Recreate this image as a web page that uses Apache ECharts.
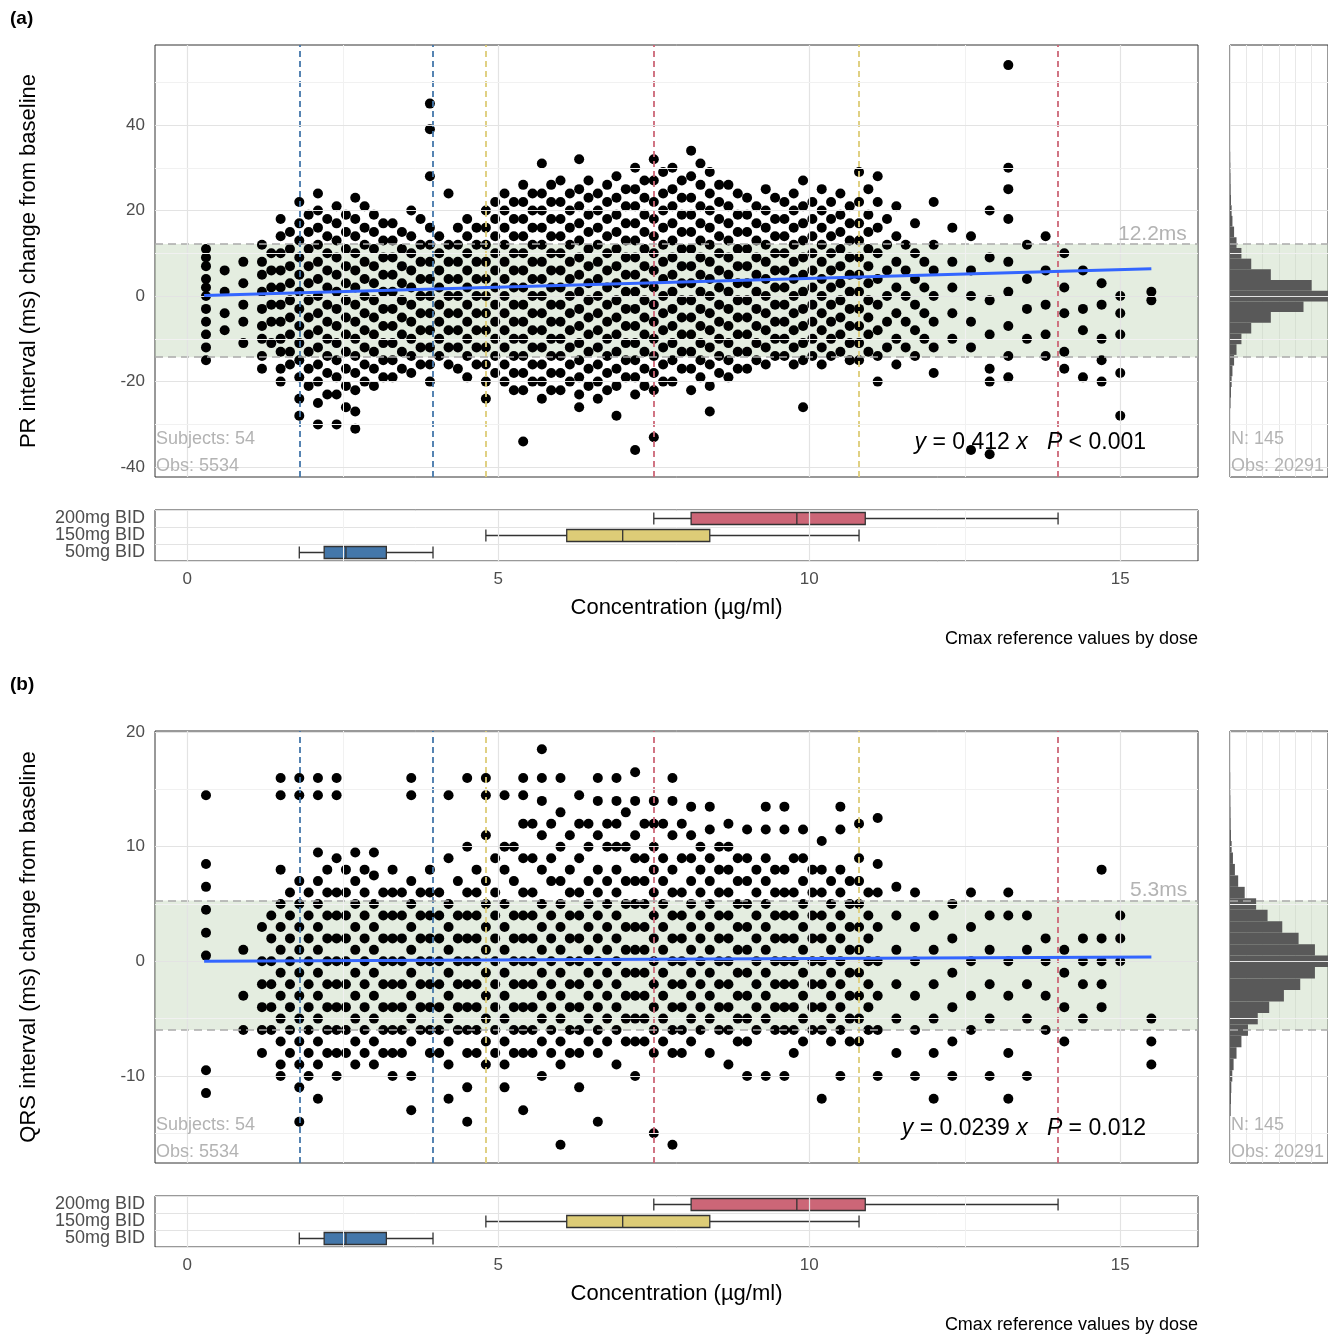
<!DOCTYPE html>
<html><head><meta charset="utf-8">
<script src="https://cdn.jsdelivr.net/npm/echarts@6/dist/echarts.min.js"></script>
<style>body{margin:0;background:#fff}#c{width:1328px;height:1334px}</style>
</head><body><div id="c"></div>
<script>
// Nube de puntos (a) PR: "x:y1,y2,..." leídos aproximadamente de la figura
const prCols = [
 '0.3:11,9,7,4,2,0,-3,-6,-9,-12,-15','0.6:6,1,-4,-8','0.9:8,3,-2,-6,-11',
 '1.2:12,8,5,1,-3,-7,-10,-14,-17','1.5:18,14,10,6,2,-2,-6,-10,-13,-17,-20',
 '1.8:22,17,13,9,5,1,-3,-7,-11,-15,-19,-24,-28','2.1:24,20,16,12,8,4,0,-4,-8,-12,-16,-20,-25,-30',
 '2.4:21,17,13,9,5,1,-3,-7,-11,-15,-19,-23,-30','2.7:23,18,14,10,6,2,-2,-6,-10,-14,-18,-22,-27,-31',
 '3.0:19,15,11,7,3,-1,-5,-9,-13,-17,-21','3.3:17,13,9,5,1,-3,-7,-11,-15,-19',
 '3.6:20,14,10,6,2,-2,-6,-10,-14,-18','3.9:45,39,28,16,12,8,4,0,-4,-8,-12,-16,-20',
 '4.2:24,12,8,4,0,-4,-8,-12,-16','4.5:18,14,10,6,2,-2,-6,-10,-14,-19',
 '4.8:20,16,12,8,4,0,-4,-8,-12,-16,-20,-24','5.1:24,20,16,12,8,4,0,-4,-8,-12,-16,-20',
 '5.4:26,22,18,14,10,6,2,-2,-6,-10,-14,-18,-22,-34','5.7:31,24,20,16,12,8,4,0,-4,-8,-12,-16,-20,-24',
 '6.0:27,22,18,14,10,6,2,-2,-6,-10,-14,-18,-22','6.3:32,25,21,17,13,9,5,1,-3,-7,-11,-15,-19,-23,-26',
 '6.6:24,20,16,12,8,4,0,-4,-8,-12,-16,-20,-24','6.9:28,23,19,15,11,7,3,-1,-5,-9,-13,-17,-21,-28',
 '7.2:30,25,21,17,13,9,5,1,-3,-7,-11,-15,-19,-23,-36','7.5:32,27,22,18,14,10,6,2,-2,-6,-10,-14,-18,-22,-33',
 '7.8:30,25,21,17,13,9,5,1,-3,-7,-11,-15,-20','8.1:34,28,23,19,15,11,7,3,-1,-5,-9,-13,-17,-22',
 '8.4:29,24,20,16,12,8,4,0,-4,-8,-12,-16,-21,-27','8.7:26,21,17,13,9,5,1,-3,-7,-11,-15,-19',
 '9.0:23,19,15,11,7,3,-1,-5,-9,-13,-17','9.3:25,20,16,12,8,4,0,-4,-8,-12,-16',
 '9.6:22,18,14,10,6,2,-2,-6,-10,-14','9.9:27,21,17,13,9,5,1,-3,-7,-11,-15,-26',
 '10.2:25,20,16,12,8,4,0,-4,-8,-12,-16','10.5:24,19,15,11,7,3,-1,-5,-9,-13',
 '10.8:29,22,17,13,9,5,1,-3,-7,-11,-15','11.1:28,22,16,10,4,-2,-8,-14,-20',
 '11.4:21,14,8,2,-4,-10,-16','11.7:17,10,4,-2,-8,-14','12.0:22,12,6,0,-6,-12,-18',
 '12.3:16,8,2,-4,-10','12.6:14,6,0,-6,-12,-36','12.9:20,9,-1,-9,-17,-20,-37',
 '13.2:54,30,25,18,8,1,-7,-14,-19','13.5:12,4,-3,-10','13.8:14,6,-2,-9,-14',
 '14.1:10,2,-4,-13,-17','14.4:6,-3,-8,-19','14.7:3,-2,-10,-15,-20','15.0:0,-4,-9,-18,-28','15.5:1,-1',
 // relleno del núcleo denso
 '1.35:10,6,2,-2,-6,-11','1.65:15,11,7,3,-1,-5,-9,-13,-16','1.95:19,15,11,7,3,-1,-5,-9,-13,-17,-21',
 '2.25:18,14,10,6,2,-2,-6,-10,-14,-18,-23','2.55:19,15,11,7,3,-1,-5,-9,-13,-17,-21,-26',
 '2.85:21,16,12,8,4,0,-4,-8,-12,-16,-20','3.15:17,13,9,5,1,-3,-7,-11,-15,-19',
 '3.45:15,11,7,3,-1,-5,-9,-13,-17','3.75:18,12,8,4,0,-4,-8,-12,-16',
 '4.05:14,10,6,2,-2,-6,-10,-14','4.35:16,12,8,4,0,-4,-8,-12,-17','4.65:16,12,8,4,0,-4,-8,-12,-16',
 '4.95:22,18,14,10,6,2,-2,-6,-10,-14,-18','5.25:22,18,14,10,6,2,-2,-6,-10,-14,-18,-22',
 '5.55:24,20,16,12,8,4,0,-4,-8,-12,-16,-20','5.85:26,22,18,14,10,6,2,-2,-6,-10,-14,-18,-22',
 '6.15:24,20,16,12,8,4,0,-4,-8,-12,-16,-20','6.45:27,23,19,15,11,7,3,-1,-5,-9,-13,-17,-21',
 '6.75:26,22,18,14,10,6,2,-2,-6,-10,-14,-18,-22','7.05:25,21,17,13,9,5,1,-3,-7,-11,-15,-19',
 '7.35:27,23,19,15,11,7,3,-1,-5,-9,-13,-17,-21','7.65:29,24,20,16,12,8,4,0,-4,-8,-12,-16,-20',
 '7.95:27,23,19,15,11,7,3,-1,-5,-9,-13,-17','8.25:31,26,21,17,13,9,5,1,-3,-7,-11,-15,-19',
 '8.55:26,22,18,14,10,6,2,-2,-6,-10,-14,-18','8.85:24,19,15,11,7,3,-1,-5,-9,-13,-17',
 '9.15:21,17,13,9,5,1,-3,-7,-11,-15','9.45:23,18,14,10,6,2,-2,-6,-10,-14',
 '9.75:24,20,16,12,8,4,0,-4,-8,-12,-16','10.05:22,18,14,10,6,2,-2,-6,-10,-14',
 '10.35:22,18,14,10,6,2,-2,-6,-10,-14','10.65:21,17,13,9,5,1,-3,-7,-11,-15',
 '10.95:25,19,15,11,7,3,-1,-5,-9,-13','11.25:18,12,6,0,-6,-12','11.55:12,6,0,-6,-12','11.85:8,2,-4,-10'
];
// Nube de puntos (b) QRS
const qrsCols = [
 '0.3:14.5,8.5,6.5,4.5,2.5,0.5,-9.5,-11.5','0.9:1,-3,-6','1.2:3,0,-2,-4,-6,-8',
 '1.5:16,14.5,8,5,3,1,-1,-3,-5,-7,-9,-10','1.8:16,14.5,7,5,3,1,-1,-3,-5,-7,-9,-11,-14',
 '2.1:16,14.5,9.5,7,5,3,1,-1,-3,-5,-7,-9,-12','2.4:16,14.5,9,6,4,2,0,-2,-4,-6,-8,-10',
 '2.7:9.5,7,5,3,1,-1,-3,-5,-7,-9','3.0:9.5,7.5,5,3,1,-1,-3,-5,-7,-9','3.3:8,6,4,2,0,-2,-4,-6,-8,-10',
 '3.6:16,14.5,7,5,3,1,-1,-3,-5,-7,-10,-13','3.9:8,6,4,2,0,-2,-4,-6,-8',
 '4.2:14.5,9,5,3,1,-1,-3,-5,-7,-9,-12','4.5:16,10,6,4,2,0,-2,-4,-6,-8,-11,-14',
 '4.8:16,14.5,11,7,5,3,1,-1,-3,-5,-7,-9','5.1:14.5,10,8,5,3,1,-1,-3,-5,-7,-9,-11',
 '5.4:16,14.5,12,9,6,4,2,0,-2,-4,-6,-8,-13','5.7:18.5,16,14,11,8,5,3,1,-1,-3,-5,-7,-10',
 '6.0:16,13,10,7,5,3,1,-1,-3,-5,-7,-9,-16','6.3:14.5,12,9,6,4,2,0,-2,-4,-6,-8,-11',
 '6.6:16,14,11,8,6,4,2,0,-2,-4,-6,-8,-14','6.9:16,14,12,10,8,6,4,2,0,-2,-4,-6,-9',
 '7.2:16.5,14,11,9,7,5,3,1,-1,-3,-5,-7,-10','7.5:14,12,10,8,6,4,2,0,-2,-4,-6,-8,-15',
 '7.8:16,14,11,8,6,4,2,0,-2,-4,-6,-8,-16','8.1:13.5,11,9,7,5,3,1,-1,-3,-5,-7',
 '8.4:13.5,11.5,9,7,5,3,1,-1,-3,-5,-8','8.7:12,10,8,6,4,2,0,-2,-4,-6,-9',
 '9.0:11.5,9,7,5,3,1,-1,-3,-5,-7,-10','9.3:13.5,11.5,9,7,5,3,1,-1,-3,-5,-10',
 '9.6:13.5,11.5,8,6,4,2,0,-2,-4,-6,-10','9.9:11.5,9,7,5,3,1,-1,-3,-5,-7',
 '10.2:10.5,8,6,4,2,0,-2,-4,-6,-12','10.5:13.5,11.5,8,6,4,2,0,-2,-4,-6,-10',
 '10.8:12,9,7,5,3,1,-1,-3,-5,-7','11.1:12.5,8.5,6,3,0,-3,-6,-10','11.4:6.5,4,1,-2,-5,-8',
 '11.7:6,3,0,-3,-6,-10','12.0:4,1,-2,-5,-8,-12','12.3:5,2,-1,-4,-7,-10','12.6:6,3,0,-3,-6',
 '12.9:4,1,-2,-5,-10','13.2:6,4,0,-3,-8,-12','13.5:4,1,-2,-5,-10','13.8:2,0,-3,-6',
 '14.1:1,-1,-4,-7','14.4:2,0,-2,-5','14.7:8,2,0,-2,-4','15.0:4,2,0','15.5:-5,-7,-9',
 // relleno del núcleo denso
 '1.35:4,2,0,-2,-4,-6','1.65:6,4,2,0,-2,-4,-6,-8','1.95:6,4,2,0,-2,-4,-6,-8,-10','2.25:8,6,4,2,0,-2,-4,-6,-8',
 '2.55:8,6,4,2,0,-2,-4,-6,-8','2.85:8,6,4,2,0,-2,-4,-6,-8','3.15:6,4,2,0,-2,-4,-6,-8',
 '3.45:6,4,2,0,-2,-4,-6,-8','3.75:6,4,2,0,-2,-4,-6','4.05:6,4,2,0,-2,-4,-6,-8','4.35:7,4,2,0,-2,-4,-6',
 '4.65:8,6,4,2,0,-2,-4,-6,-8','4.95:9,6,4,2,0,-2,-4,-6,-8','5.25:10,7,4,2,0,-2,-4,-6,-8',
 '5.55:12,9,6,4,2,0,-2,-4,-6,-8','5.85:12,9,7,4,2,0,-2,-4,-6,-8','6.15:11,8,6,4,2,0,-2,-4,-6,-8',
 '6.45:12,10,7,5,3,1,-1,-3,-5,-7','6.75:12,10,7,5,3,1,-1,-3,-5,-7','7.05:13,10,7,5,3,1,-1,-3,-5,-7',
 '7.35:12,9,7,5,3,1,-1,-3,-5,-7','7.65:12,9,7,5,3,1,-1,-3,-5,-7','7.95:12,9,6,4,2,0,-2,-4,-6,-8',
 '8.25:10,8,6,4,2,0,-2,-4,-6','8.55:10,8,6,4,2,0,-2,-4,-6','8.85:9,7,5,3,1,-1,-3,-5,-7',
 '9.15:8,6,4,2,0,-2,-4,-6','9.45:8,6,4,2,0,-2,-4,-6','9.75:9,6,4,2,0,-2,-4,-6,-8',
 '10.05:8,6,4,2,0,-2,-4,-6','10.35:7,5,3,1,-1,-3,-5,-7','10.65:7,5,3,1,-1,-3,-5,-7','10.95:6,4,2,0,-2,-4,-6'
];
const doses = ['50mg BID', '150mg BID', '200mg BID'];
const doseColors = ['#4477AA', '#DDCC77', '#CC6677'];
// [min, Q1, mediana, Q3, max] de Cmax por dosis
const doseBoxes = [[1.8, 2.2, 2.55, 3.2, 3.95], [4.8, 6.1, 7.0, 8.4, 10.8], [7.5, 8.1, 9.8, 10.9, 14.0]];
// líneas de referencia Cmax: [x, índice de dosis]
const cmaxLines = [[1.8, 0], [3.95, 0], [4.8, 1], [10.8, 1], [7.5, 2], [14.0, 2]];
const prFit = [[0.27, 0.11], [15.5, 6.39]];
const qrsFit = [[0.27, 0.01], [15.5, 0.37]];
const prBand = [-14.3, 12.2];
const qrsBand = [-6.0, 5.3];
const xTicks = [0, 5, 10, 15];
const xMinor = [2.5, 12.5];
const prTicks = [-40, -20, 0, 20, 40];
const prMinor = [-30, -10, 10, 30, 50];
const qrsTicks = [-10, 0, 10, 20];
const qrsMinor = [-15, -5, 5, 15];
// Histogramas laterales: [centro, cuenta]
const prHist = [[-25,3],[-22.5,6],[-20,10],[-17.5,15],[-15,25],[-12.5,40],[-10,70],[-7.5,130],[-5,250],[-2.5,450],[0,700],[2.5,500],[5,250],[7.5,130],[10,70],[12.5,40],[15,25],[17.5,15],[20,10],[22.5,6],[25,4],[27.5,3],[30,2],[32.5,1]];
const qrsHist = [[-13,4],[-12,6],[-11,8],[-10,14],[-9,22],[-8,40],[-7,70],[-6,110],[-5,170],[-4,240],[-3,330],[-2,430],[-1,520],[0,620],[1,520],[2,420],[3,320],[4,230],[5,160],[6,90],[7,50],[8,30],[9,18],[10,10],[11,6],[12,4],[13,3],[14,2],[15,1],[16,1]];

function parseCols(cols) {
    const out = [];
    cols.forEach(function (s) {
        const p = s.split(':');
        const x = parseFloat(p[0]);
        p[1].split(',').forEach(function (y) { out.push([x, parseFloat(y)]); });
    });
    return out;
}

const FONT = 'Liberation Sans';
const noLine = { show: false };
// líneas de rejilla como markLine (el rango no empieza en múltiplo del intervalo)
function gridSeries(xi, yi, xs, xm, ys, ym) {
    const d = [];
    xs.forEach(function (v) { d.push({ xAxis: v, lineStyle: { color: '#e3e3e3', width: 1.2, type: 'solid' } }); });
    xm.forEach(function (v) { d.push({ xAxis: v, lineStyle: { color: '#f1f1f1', width: 1, type: 'solid' } }); });
    ys.forEach(function (v) { d.push({ yAxis: v, lineStyle: { color: '#e3e3e3', width: 1.2, type: 'solid' } }); });
    ym.forEach(function (v) { d.push({ yAxis: v, lineStyle: { color: '#f1f1f1', width: 1, type: 'solid' } }); });
    return { type: 'line', xAxisIndex: xi, yAxisIndex: yi, data: [], z: 1,
        markLine: { silent: true, symbol: 'none', label: { show: false }, data: d } };
}

function panel(gi, yMin, yMax, yTicks, yMinor, pts, fit, band, hist, yName, histMax, bw) {
    const xAxes = [
        { type: 'value', gridIndex: gi, min: -0.52, max: 16.25, axisLabel: { show: false }, axisTick: noLine, axisLine: noLine, splitLine: noLine },
        { type: 'value', gridIndex: gi + 1, min: -0.52, max: 16.25, axisTick: noLine, axisLine: noLine, splitLine: noLine,
            name: 'Concentration (µg/ml)', nameLocation: 'middle', nameGap: 36,
            nameTextStyle: { fontFamily: FONT, fontSize: 22, color: '#000' },
            axisLabel: { fontFamily: FONT, fontSize: 17, color: '#4d4d4d', margin: 10, customValues: xTicks } },
        { type: 'value', gridIndex: gi + 2, min: 0, max: histMax, axisLabel: { show: false }, axisTick: noLine,
            axisLine: noLine, splitNumber: 8, splitLine: { lineStyle: { color: '#e8e8e8' } } }
    ];
    const yAxes = [
        { type: 'value', gridIndex: gi, min: yMin, max: yMax, name: yName, nameLocation: 'middle', nameGap: 115,
            nameTextStyle: { fontFamily: FONT, fontSize: 22, color: '#000' },
            axisLabel: { fontFamily: FONT, fontSize: 17, color: '#4d4d4d', customValues: yTicks, margin: 10 },
            axisTick: { show: true, length: 4, customValues: yTicks, lineStyle: { color: '#333' } }, axisLine: noLine, splitLine: noLine },
        { type: 'category', gridIndex: gi + 1, data: doses, axisTick: noLine, axisLine: noLine,
            axisLabel: { fontFamily: FONT, fontSize: 18, color: '#4d4d4d', margin: 10, interval: 0 },
            splitLine: { show: true, lineStyle: { color: '#e3e3e3' } } },
        { type: 'value', gridIndex: gi + 2, min: yMin, max: yMax, axisLabel: { show: false },
            axisTick: noLine, axisLine: noLine, splitLine: noLine }
    ];
    const ax = gi;
    const series = [
        gridSeries(ax, ax, xTicks, xMinor, yTicks, yMinor),
        gridSeries(ax + 1, ax + 1, xTicks, xMinor, [], []),
        gridSeries(ax + 2, ax + 2, [], [], yTicks, yMinor),
        { type: 'scatter', xAxisIndex: ax, yAxisIndex: ax, data: pts, symbolSize: 10, itemStyle: { color: '#000', opacity: 1 }, z: 3,
            markArea: { silent: true, itemStyle: { color: 'rgba(190,212,182,0.42)' }, data: [[{ yAxis: band[0] }, { yAxis: band[1] }]] },
            markLine: { silent: true, symbol: 'none', label: { show: false }, z: 4,
                data: cmaxLines.map(function (v) {
                    return { xAxis: v[0], lineStyle: { color: doseColors[v[1]], type: [6, 4], width: 1.8, opacity: 1 } }; })
                    .concat(band.map(function (b) { return { yAxis: b, lineStyle: { color: '#aaa', type: [8, 5], width: 1.6 } }; })) } },
        { type: 'line', xAxisIndex: ax, yAxisIndex: ax, data: fit, symbol: 'none', lineStyle: { color: '#3366FF', width: 3 }, z: 5 },
        { type: 'boxplot', xAxisIndex: ax + 1, yAxisIndex: ax + 1, layout: 'horizontal', boxWidth: [12, 14], z: 3,
            data: doseBoxes.map(function (b, i) { return { value: b, itemStyle: { color: doseColors[i], borderColor: '#333', borderWidth: 1.3 } }; }) },
        { type: 'custom', xAxisIndex: ax + 2, yAxisIndex: ax + 2, data: hist, z: 3,
            renderItem: function (params, api) {
                const p0 = api.coord([0, api.value(0) + bw / 2]);
                const p1 = api.coord([api.value(1), api.value(0) - bw / 2]);
                return { type: 'rect', shape: { x: p0[0], y: p0[1], width: p1[0] - p0[0], height: p1[1] - p0[1] }, style: { fill: '#595959' } };
            },
            markArea: { silent: true, itemStyle: { color: 'rgba(190,212,182,0.42)' }, data: [[{ yAxis: band[0] }, { yAxis: band[1] }]] },
            markLine: { silent: true, symbol: 'none', label: { show: false },
                data: band.map(function (b) { return { yAxis: b, lineStyle: { color: '#aaa', type: [8, 5], width: 1.6 } }; }) } }
    ];
    return { xAxes: xAxes, yAxes: yAxes, series: series };
}

const pa = panel(0, -42.3, 58.7, prTicks, prMinor, parseCols(prCols), prFit, prBand, prHist, 'PR interval (ms) change from baseline', 600, 2.5);
const pb = panel(3, -17.6, 20.1, qrsTicks, qrsMinor, parseCols(qrsCols), qrsFit, qrsBand, qrsHist, 'QRS interval (ms) change from baseline', 600, 1);

const border = { show: true, borderColor: '#333', borderWidth: 1 };
const grids = [
    Object.assign({ left: 155, top: 45, width: 1043, height: 432 }, border),
    Object.assign({ left: 155, top: 510, width: 1043, height: 51 }, border),
    Object.assign({ left: 1230, top: 45, width: 140, height: 432 }, border),
    Object.assign({ left: 155, top: 731, width: 1043, height: 432 }, border),
    Object.assign({ left: 155, top: 1196, width: 1043, height: 51 }, border),
    Object.assign({ left: 1230, top: 731, width: 140, height: 432 }, border)
];

const grayTxt = { fontFamily: FONT, fontSize: 18, fill: '#b3b3b3' };
function txt(x, y, text, style) { return { type: 'text', x: x, y: y, z: 10, style: Object.assign({ text: text }, style) }; }
function eqText(x, y, coef, p) {
    return { type: 'text', x: x, y: y, z: 10, style: { text: '{i|y} = ' + coef + ' {i|x}   {i|P} ' + p, align: 'right', verticalAlign: 'middle',
        font: '23px "Liberation Sans"', fill: '#000', rich: { i: { fontStyle: 'italic', fontFamily: FONT, fontSize: 23 } } } };
}
const graphics = [
    txt(10, 9, '(a)', { fontFamily: FONT, fontSize: 19, fontWeight: 'bold', fill: '#000' }),
    txt(10, 675, '(b)', { fontFamily: FONT, fontSize: 19, fontWeight: 'bold', fill: '#000' }),
    txt(1118, 224, '12.2ms', Object.assign({}, grayTxt, { fontSize: 21 })),
    txt(1130, 880, '5.3ms', Object.assign({}, grayTxt, { fontSize: 21 })),
    txt(156, 430, 'Subjects: 54', grayTxt), txt(156, 457, 'Obs: 5534', grayTxt),
    txt(156, 1116, 'Subjects: 54', grayTxt), txt(156, 1143, 'Obs: 5534', grayTxt),
    txt(1231, 430, 'N: 145', grayTxt), txt(1231, 457, 'Obs: 20291', grayTxt),
    txt(1231, 1116, 'N: 145', grayTxt), txt(1231, 1143, 'Obs: 20291', grayTxt),
    eqText(1146, 443, '0.412', '< 0.001'),
    eqText(1146, 1129, '0.0239', '= 0.012'),
    txt(1198, 630, 'Cmax reference values by dose', { fontFamily: FONT, fontSize: 18, fill: '#000', align: 'right' }),
    txt(1198, 1316, 'Cmax reference values by dose', { fontFamily: FONT, fontSize: 18, fill: '#000', align: 'right' })
];

const chart = echarts.init(document.getElementById('c'));
chart.setOption({
    animation: false,
    backgroundColor: '#fff',
    grid: grids,
    xAxis: pa.xAxes.concat(pb.xAxes),
    yAxis: pa.yAxes.concat(pb.yAxes),
    series: pa.series.concat(pb.series),
    graphic: graphics
});
</script>
</body></html>
